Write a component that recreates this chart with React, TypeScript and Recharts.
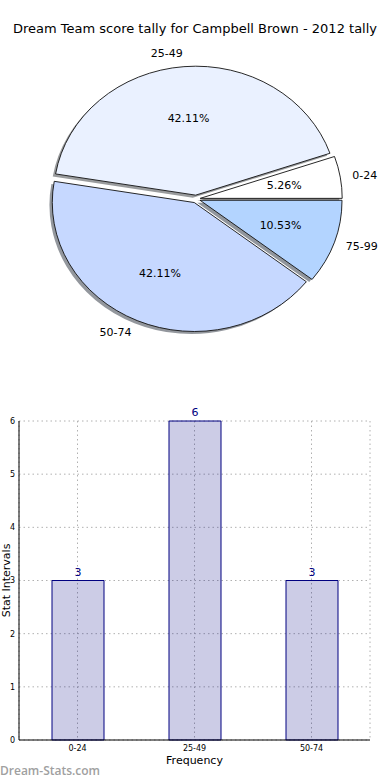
import React from 'react';
import { PieChart, Pie, Cell, BarChart, Bar, XAxis, YAxis, CartesianGrid, LabelList, Label } from 'recharts';

const pieLabels = ['0-24', '25-49', '50-74', '75-99'];
const pieValues = [1, 8, 8, 2];
const pieColors = ['#ffffff', '#eaf1ff', '#c6d8ff', '#b3d4ff'];
const barCategories = ['0-24', '25-49', '50-74'];
const barValues = [3, 6, 3];
const yTicks = [0, 1, 2, 3, 4, 5, 6];

const pieData = pieLabels.map((name, i) => ({ name, value: pieValues[i], color: pieColors[i] }));
const barData = barCategories.map((name, i) => ({ name, value: barValues[i] }));

const RAD = Math.PI / 180;
const K = 0.908; // vertical squash of the pie
const EXPLODE = 0.03;
const FONT = '"DejaVu Sans", sans-serif';

function sectorPath(cx: number, cy: number, rx: number, ry: number, a1: number, a2: number) {
  const x1 = cx + rx * Math.cos(a1 * RAD);
  const y1 = cy - ry * Math.sin(a1 * RAD);
  const x2 = cx + rx * Math.cos(a2 * RAD);
  const y2 = cy - ry * Math.sin(a2 * RAD);
  const large = Math.abs(a2 - a1) > 180 ? 1 : 0;
  const sweep = a2 > a1 ? 0 : 1;
  return `M${cx},${cy} L${x1},${y1} A${rx},${ry} 0 ${large} ${sweep} ${x2},${y2} Z`;
}

function explodedCenter(p: any) {
  const m = p.midAngle * RAD;
  return {
    x: p.cx + EXPLODE * p.outerRadius * Math.cos(m),
    y: p.cy - EXPLODE * p.outerRadius * K * Math.sin(m),
  };
}

function shade(hex: string) {
  const n = parseInt(hex.slice(1), 16);
  const r = Math.round(((n >> 16) & 255) * 0.3);
  const g = Math.round(((n >> 8) & 255) * 0.3);
  const b = Math.round((n & 255) * 0.3);
  return `rgb(${r},${g},${b})`;
}

const WedgeShape = (p: any) => {
  const c = explodedCenter(p);
  return (
    <path
      d={sectorPath(c.x, c.y, p.outerRadius, p.outerRadius * K, p.startAngle, p.endAngle)}
      fill={p.payload?.color ?? p.fill}
      stroke="#111"
      strokeWidth={0.9}
      strokeLinejoin="round"
    />
  );
};

const ShadowShape = (p: any) => {
  const c = explodedCenter(p);
  const dx = -0.02 * p.outerRadius;
  const dy = 0.02 * p.outerRadius * K;
  return (
    <path
      d={sectorPath(c.x + dx, c.y + dy, p.outerRadius, p.outerRadius * K, p.startAngle, p.endAngle)}
      fill={shade(p.payload?.color ?? '#ffffff')}
      fillOpacity={0.55}
      stroke="none"
    />
  );
};

const renderPieLabel = (p: any) => {
  const c = explodedCenter(p);
  const m = p.midAngle * RAD;
  const R = p.outerRadius;
  const cos = Math.cos(m);
  const sin = Math.sin(m);
  const px = c.x + 0.6 * R * cos;
  const py = c.y - 0.6 * R * K * sin;
  const lx = c.x + 1.1 * R * cos;
  const ly = c.y - 1.1 * R * K * sin;
  return (
    <g>
      <text x={px} y={py} textAnchor="middle" dominantBaseline="central" fontSize={11} fontFamily={FONT} fill="#000">
        {(p.percent * 100).toFixed(2) + '%'}
      </text>
      <text x={lx - (cos < 0 ? 0 : 2)} y={ly} textAnchor={cos < 0 ? 'end' : 'start'} dominantBaseline="central" fontSize={11} fontFamily={FONT} fill="#000">
        {p.name}
      </text>
    </g>
  );
};

export default function App() {
  return (
    <div style={{ position: 'absolute', left: 0, top: 0, width: 390, height: 780, background: '#fff', overflow: 'hidden' }}>
      <div
        style={{
          position: 'absolute', left: 0, top: 21, width: 390, textAlign: 'center',
          fontFamily: FONT, fontSize: 13, color: '#000', whiteSpace: 'nowrap',
        }}
      >
        Dream Team score tally for Campbell Brown - 2012 tally
      </div>
      <div style={{ position: 'absolute', left: 0, top: 0 }}>
        <PieChart width={390} height={380} margin={{ top: 0, right: 0, bottom: 0, left: 0 }}>
          <Pie
            data={pieData}
            dataKey="value"
            nameKey="name"
            cx={196}
            cy={199}
            outerRadius={142}
            startAngle={0}
            endAngle={360}
            isAnimationActive={false}
            shape={ShadowShape}
            label={false}
            labelLine={false}
          />
          <Pie
            data={pieData}
            dataKey="value"
            nameKey="name"
            cx={196}
            cy={199}
            outerRadius={142}
            startAngle={0}
            endAngle={360}
            isAnimationActive={false}
            shape={WedgeShape}
            label={renderPieLabel}
            labelLine={false}
          >
            {pieData.map((d) => (
              <Cell key={d.name} fill={d.color} />
            ))}
          </Pie>
        </PieChart>
      </div>
      <div style={{ position: 'absolute', left: 0, top: 380 }}>
        <BarChart width={390} height={400} data={barData} margin={{ top: 41, right: 20, bottom: 0, left: 0 }}>
          <CartesianGrid stroke="#b0b0b0" strokeDasharray="1.5 3" />
          <XAxis
            dataKey="name"
            height={40}
            tickLine={false}
            tickSize={3}
            tickMargin={2}
            axisLine={{ stroke: '#000' }}
            tick={{ fontSize: 8, fontFamily: FONT, fill: '#000' }}
          >
            <Label
              content={(lp: any) => {
                const vb = lp.viewBox || {};
                return (
                  <text x={vb.x + vb.width / 2} y={vb.y + 20} textAnchor="middle" dominantBaseline="central" fontSize={11} fontFamily={FONT} fill="#000">
                    Frequency
                  </text>
                );
              }}
            />
          </XAxis>
          <XAxis xAxisId="top" dataKey="name" orientation="top" height={0} tick={false} tickLine={false} axisLine={{ stroke: '#000' }} />
          <YAxis
            domain={[0, 6]}
            ticks={yTicks}
            width={19}
            tickLine={false}
            tickSize={3}
            tickMargin={1}
            axisLine={{ stroke: '#000' }}
            tick={{ fontSize: 8, fontFamily: FONT, fill: '#000' }}
          >
            <Label
              content={(lp: any) => {
                const vb = lp.viewBox || {};
                const x = vb.x + 6;
                const y = vb.y + vb.height / 2;
                return (
                  <text x={x} y={y} transform={`rotate(-90, ${x}, ${y})`} textAnchor="middle" dominantBaseline="central" fontSize={11} fontFamily={FONT} fill="#000">
                    Stat Intervals
                  </text>
                );
              }}
            />
          </YAxis>
          <YAxis yAxisId="right" orientation="right" domain={[0, 6]} width={0} tick={false} tickLine={false} axisLine={{ stroke: '#000' }} />
          <Bar dataKey="value" barSize={52} fill="#000080" fillOpacity={0.2} stroke="#000080" strokeWidth={1} isAnimationActive={false}>
            <LabelList dataKey="value" position="top" offset={5} fill="#000080" fontSize={11} fontFamily={FONT} />
          </Bar>
        </BarChart>
      </div>
      <div
        style={{
          position: 'absolute', left: 0, top: 762, fontFamily: '"Open Sans", sans-serif', fontSize: 12,
          color: '#a0a0a0', whiteSpace: 'nowrap', fontWeight: 600,
        }}
      >
        Dream-Stats.com
      </div>
    </div>
  );
}
